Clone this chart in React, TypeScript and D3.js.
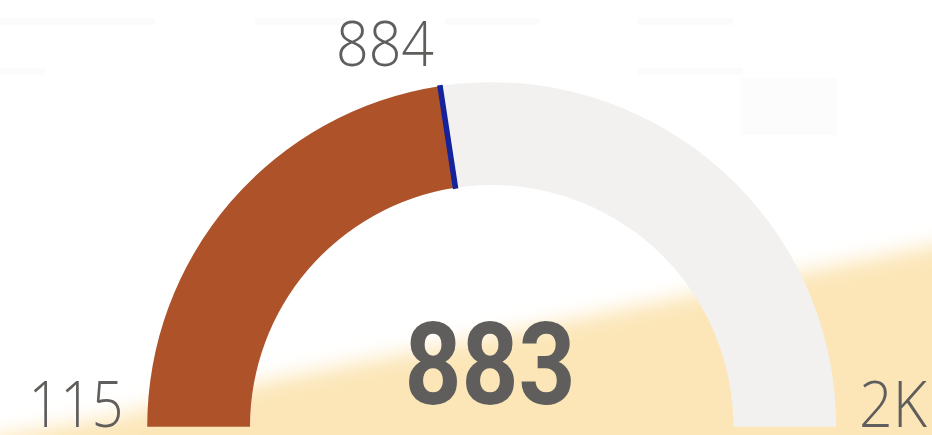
import React from "react";
import * as d3 from "d3";

const gaugeMin = [115];
const gaugeMax = [1816];
const values = [883];
const targets = [884];
const minLabels = ["115"];
const maxLabels = ["2K"];
const valueLabels = ["883"];
const targetLabels = ["884"];

const W = 932;
const H = 435;

export default function App() {
  const cx = 491.7;
  const cy = 426.7;
  const rOuter = 344.5;
  const rInner = 241.7;

  const angle = d3
    .scaleLinear()
    .domain([gaugeMin[0], gaugeMax[0]])
    .range([-Math.PI / 2, Math.PI / 2]);

  const arc = d3.arc<any>().innerRadius(rInner).outerRadius(rOuter);
  const bgPath = arc({ startAngle: -Math.PI / 2, endAngle: Math.PI / 2 }) as string;
  const valPath = arc({ startAngle: -Math.PI / 2, endAngle: angle(values[0]) }) as string;

  const ta = angle(targets[0]);
  const tx1 = Math.sin(ta) * (rInner - 1);
  const ty1 = -Math.cos(ta) * (rInner - 1);
  const tx2 = Math.sin(ta) * (rOuter + 1);
  const ty2 = -Math.cos(ta) * (rOuter + 1);

  const textColor = "#605E5C";

  return (
    <div style={{ position: "fixed", left: 0, top: 0, width: W, height: H, overflow: "hidden" }}>
      <svg width={W} height={H} style={{ display: "block" }}>
        <defs>
          <filter id="blur" x="-20%" y="-20%" width="140%" height="140%">
            <feGaussianBlur stdDeviation="10" />
          </filter>
          <filter id="blur2" x="-50%" y="-50%" width="200%" height="200%">
            <feGaussianBlur stdDeviation="14" />
          </filter>
        </defs>
        <rect x={0} y={0} width={W} height={H} fill="#ffffff" />
        <polygon
          points="-60,446 0,436 932,246 1010,230 1010,520 -60,520"
          fill="#FCE6B8"
          filter="url(#blur)"
        />
        <ellipse cx={60} cy={400} rx={90} ry={18} fill="#ffffff" opacity={0.55} filter="url(#blur2)" />
        <rect x={0} y={18} width={155} height={7} fill="#FBFBFB" />
        <rect x={255} y={18} width={100} height={7} fill="#FBFBFB" />
        <rect x={445} y={18} width={95} height={7} fill="#FBFBFB" />
        <rect x={638} y={18} width={95} height={7} fill="#FBFBFB" />
        <rect x={0} y={68} width={45} height={7} fill="#FBFBFB" />
        <rect x={638} y={68} width={105} height={7} fill="#FBFBFB" />
        <rect x={740} y={78} width={97} height={57} fill="#FCFCFC" />

        <g transform={`translate(${cx},${cy})`}>
          <path d={bgPath} fill="#F2F1F0" />
          <path d={valPath} fill="#AD5229" />
          <line x1={tx1} y1={ty1} x2={tx2} y2={ty2} stroke="#14229C" strokeWidth={5.5} />
        </g>

        <text
          x={385}
          y={65.7}
          textAnchor="middle"
          fontFamily="'Open Sans', sans-serif"
          fontWeight={300}
          fontSize={62}
          fill={textColor}
          textLength={98}
          lengthAdjust="spacingAndGlyphs"
        >
          {targetLabels[0]}
        </text>
        <text
          x={28.5}
          y={426.7}
          fontFamily="'Open Sans', sans-serif"
          fontWeight={300}
          fontSize={64}
          fill={textColor}
          textLength={95}
          lengthAdjust="spacingAndGlyphs"
        >
          {minLabels[0]}
        </text>
        <text
          x={927}
          y={426.7}
          textAnchor="end"
          fontFamily="'Open Sans', sans-serif"
          fontWeight={300}
          fontSize={64}
          fill={textColor}
          textLength={68}
          lengthAdjust="spacingAndGlyphs"
        >
          {maxLabels[0]}
        </text>
        <text
          x={490}
          y={404}
          textAnchor="middle"
          fontFamily="Roboto, sans-serif"
          fontWeight={700}
          fontSize={115}
          fill="#5F5E5C"
          textLength={171}
          lengthAdjust="spacingAndGlyphs"
        >
          {valueLabels[0]}
        </text>
      </svg>
    </div>
  );
}
